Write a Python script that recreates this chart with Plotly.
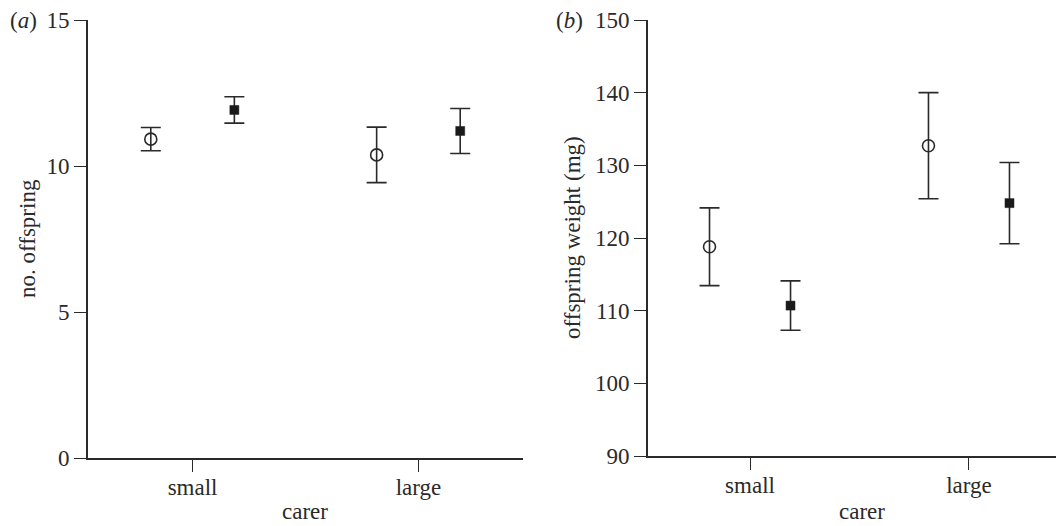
import plotly.graph_objects as go

# ---- data ----
carer = ["small", "large"]

# panel (a): number of offspring
a_open_mean = [10.92, 10.38]
a_open_err = [0.40, 0.95]
a_filled_mean = [11.92, 11.20]
a_filled_err = [0.45, 0.77]

# panel (b): offspring weight (mg)
b_open_mean = [118.8, 132.7]
b_open_err = [5.35, 7.3]
b_filled_mean = [110.7, 124.8]
b_filled_err = [3.4, 5.6]

a_yticks = [0, 5, 10, 15]
b_yticks = [90, 100, 110, 120, 130, 140, 150]

# the page body has an 8px margin, so the figure is drawn 8px in
OFF = 8
W, H = 1064 - OFF, 526 - OFF
MT = 20 - OFF
MB = H - (458 - OFF)
PH = H - MT - MB
INK = "#2a2a2a"
FONT = "Liberation Serif, Times New Roman, serif"
FS = 23


def px_x(p):
    return (p - OFF) / W


def px_y(p):
    return (H - MB - (p - OFF)) / PH


fig = go.Figure()


def add_pair(xa, ya, open_m, open_e, fill_m, fill_e):
    fig.add_trace(go.Scatter(
        x=carer, y=open_m, mode="markers", xaxis=xa, yaxis=ya,
        offsetgroup="open",
        marker=dict(symbol="circle-open", size=12, color=INK,
                    line=dict(width=1.6, color=INK)),
        error_y=dict(type="data", array=open_e, visible=True,
                     color=INK, thickness=1.6, width=10),
        showlegend=False, cliponaxis=False))
    fig.add_trace(go.Scatter(
        x=carer, y=fill_m, mode="markers", xaxis=xa, yaxis=ya,
        offsetgroup="filled",
        marker=dict(symbol="square", size=9, color="#1a1a1a",
                    line=dict(width=0.5, color="#1a1a1a")),
        error_y=dict(type="data", array=fill_e, visible=True,
                     color=INK, thickness=1.6, width=10),
        showlegend=False, cliponaxis=False))


add_pair("x", "y", a_open_mean, a_open_err, a_filled_mean, a_filled_err)
add_pair("x2", "y2", b_open_mean, b_open_err, b_filled_mean, b_filled_err)

axis_common = dict(
    showgrid=False, zeroline=False, showline=True, linecolor=INK,
    linewidth=1.6, ticks="outside", ticklen=12, tickwidth=1.4,
    tickcolor=INK, tickfont=dict(family=FONT, size=FS, color=INK),
)

fig.update_layout(
    width=W, height=H,
    margin=dict(l=0, r=0, t=MT, b=MB),
    paper_bgcolor="white", plot_bgcolor="white",
    scattermode="group", scattergap=0.26,
    font=dict(family=FONT, size=FS, color=INK),
    xaxis=dict(domain=[px_x(88), px_x(523)], range=[-0.463, 1.463],
               type="category", anchor="y", ticklabelstandoff=-4,
               **axis_common),
    yaxis=dict(domain=[0, 1], range=[0, 15], tickvals=a_yticks,
               anchor="x", **axis_common),
    xaxis2=dict(domain=[px_x(648), 1.0], range=[-0.466, 1.434],
                type="category", anchor="y2", ticklabelstandoff=-4,
                **axis_common),
    yaxis2=dict(domain=[px_y(456), 1], range=[90, 150], tickvals=b_yticks,
                anchor="x2", **axis_common),
)

ann = [
    dict(text="(<i>a</i>)", x=px_x(38), y=px_y(20), xanchor="right"),
    dict(text="(<i>b</i>)", x=px_x(584), y=px_y(20), xanchor="right"),
    dict(text="carer", x=px_x(305), y=px_y(511), xanchor="center"),
    dict(text="carer", x=px_x(862), y=px_y(511), xanchor="center"),
    dict(text="no. offspring", x=px_x(27), y=px_y(239), xanchor="center",
         textangle=-90),
    dict(text="offspring weight (mg)", x=px_x(572), y=px_y(238),
         xanchor="center", textangle=-90),
]
for a in ann:
    fig.add_annotation(xref="paper", yref="paper", showarrow=False,
                       yanchor="middle", borderpad=0,
                       font=dict(family=FONT, size=FS, color=INK), **a)

fig.write_html("out.html")
